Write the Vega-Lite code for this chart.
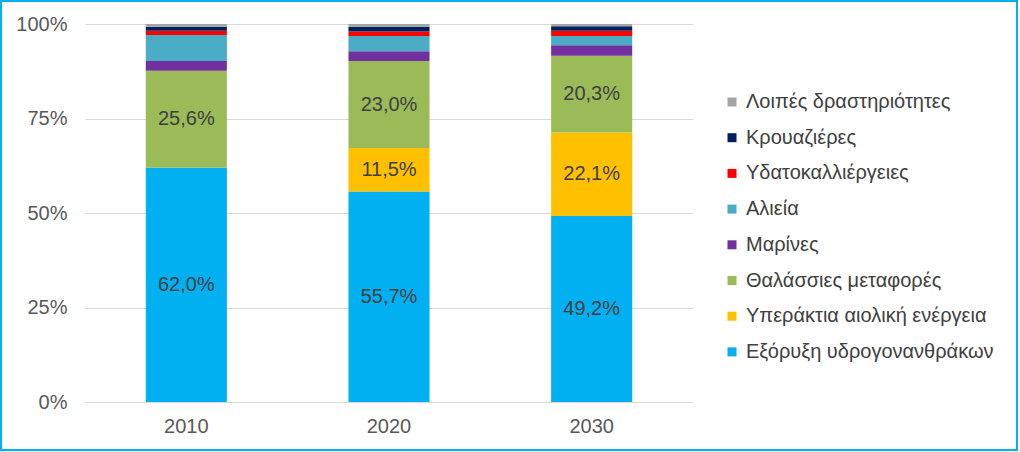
{
  "$schema": "https://vega.github.io/schema/vega-lite/v6.json",
  "autosize": {"type": "none"},
  "width": 1018,
  "height": 451,
  "padding": 0,
  "background": "white",
  "config": {
    "view": {"stroke": "#00B0F0", "strokeWidth": 4},
    "font": "Liberation Sans",
    "locale": {"number": {"decimal": ",", "thousands": ".", "grouping": [3], "currency": ["", " €"]}},
    "axis": {"labelFont": "Liberation Sans", "labelColor": "#595959", "labelFontSize": 20, "ticks": false, "domain": false, "title": null}
  },
  "data": {"values": [
    {"year": "2010", "sector": "Εξόρυξη υδρογονανθράκων", "order": 1, "value": 0.620},
    {"year": "2010", "sector": "Υπεράκτια αιολική ενέργεια", "order": 2, "value": 0.0},
    {"year": "2010", "sector": "Θαλάσσιες μεταφορές", "order": 3, "value": 0.256},
    {"year": "2010", "sector": "Μαρίνες", "order": 4, "value": 0.026},
    {"year": "2010", "sector": "Αλιεία", "order": 5, "value": 0.069},
    {"year": "2010", "sector": "Υδατοκαλλιέργειες", "order": 6, "value": 0.011},
    {"year": "2010", "sector": "Κρουαζιέρες", "order": 7, "value": 0.011},
    {"year": "2010", "sector": "Λοιπές δραστηριότητες", "order": 8, "value": 0.007},
    {"year": "2020", "sector": "Εξόρυξη υδρογονανθράκων", "order": 1, "value": 0.557},
    {"year": "2020", "sector": "Υπεράκτια αιολική ενέργεια", "order": 2, "value": 0.115},
    {"year": "2020", "sector": "Θαλάσσιες μεταφορές", "order": 3, "value": 0.230},
    {"year": "2020", "sector": "Μαρίνες", "order": 4, "value": 0.026},
    {"year": "2020", "sector": "Αλιεία", "order": 5, "value": 0.040},
    {"year": "2020", "sector": "Υδατοκαλλιέργειες", "order": 6, "value": 0.012},
    {"year": "2020", "sector": "Κρουαζιέρες", "order": 7, "value": 0.013},
    {"year": "2020", "sector": "Λοιπές δραστηριότητες", "order": 8, "value": 0.007},
    {"year": "2030", "sector": "Εξόρυξη υδρογονανθράκων", "order": 1, "value": 0.492},
    {"year": "2030", "sector": "Υπεράκτια αιολική ενέργεια", "order": 2, "value": 0.221},
    {"year": "2030", "sector": "Θαλάσσιες μεταφορές", "order": 3, "value": 0.203},
    {"year": "2030", "sector": "Μαρίνες", "order": 4, "value": 0.028},
    {"year": "2030", "sector": "Αλιεία", "order": 5, "value": 0.024},
    {"year": "2030", "sector": "Υδατοκαλλιέργειες", "order": 6, "value": 0.014},
    {"year": "2030", "sector": "Κρουαζιέρες", "order": 7, "value": 0.012},
    {"year": "2030", "sector": "Λοιπές δραστηριότητες", "order": 8, "value": 0.006}
  ]},
  "encoding": {
    "x": {"field": "year", "type": "nominal", "scale": {"paddingInner": 0.6, "paddingOuter": 0.3, "range": [85, 693]},
          "axis": {"labelAngle": 0, "labelPadding": 14, "grid": false, "offset": -49}},
    "y": {"field": "value", "type": "quantitative", "stack": "zero",
          "scale": {"domain": [0, 1], "range": [402, 24]},
          "axis": {"values": [0, 0.25, 0.5, 0.75, 1], "format": ".0%", "labelPadding": 18, "grid": true, "gridColor": "#D9D9D9", "gridWidth": 1, "offset": -85}},
    "order": {"field": "order", "type": "quantitative"}
  },
  "layer": [
    {
      "mark": {"type": "bar"},
      "encoding": {
        "color": {"field": "sector", "type": "nominal",
          "scale": {
            "domain": ["Λοιπές δραστηριότητες", "Κρουαζιέρες", "Υδατοκαλλιέργειες", "Αλιεία", "Μαρίνες", "Θαλάσσιες μεταφορές", "Υπεράκτια αιολική ενέργεια", "Εξόρυξη υδρογονανθράκων"],
            "range": ["#A5A5A5", "#002060", "#FF0000", "#4BACC6", "#7030A0", "#9BBB59", "#FFC000", "#00B0F0"]
          },
          "legend": {"title": null, "orient": "none", "legendX": 722, "legendY": 92, "symbolType": "square", "symbolSize": 81, "symbolStrokeWidth": 0, "labelFontSize": 20, "labelColor": "#404040", "labelFont": "Liberation Sans", "rowPadding": 15.7, "labelOffset": 4, "labelLimit": 400}
        }
      }
    },
    {
      "transform": [{"filter": "datum.value >= 0.1"}],
      "mark": {"type": "text", "fontSize": 20, "color": "#404040", "font": "Liberation Sans"},
      "encoding": {
        "y": {"field": "value", "type": "quantitative", "stack": "zero", "bandPosition": 0.5},
        "text": {"field": "value", "type": "quantitative", "format": ".1%"}
      }
    }
  ]
}
